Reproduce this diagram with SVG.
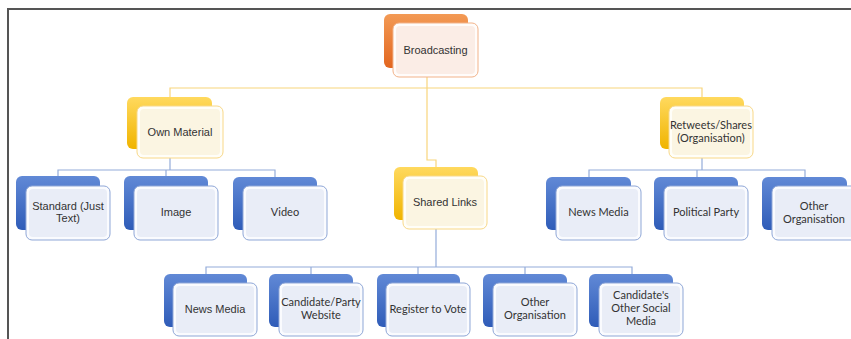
<svg xmlns="http://www.w3.org/2000/svg" width="851" height="339" viewBox="0 0 851 339">
<defs>
<linearGradient id="gO" x1="0" y1="0" x2="0" y2="1"><stop offset="0" stop-color="#F39A55"/><stop offset="1" stop-color="#E2661F"/></linearGradient>
<linearGradient id="gY" x1="0" y1="0" x2="0" y2="1"><stop offset="0" stop-color="#FFD95E"/><stop offset="1" stop-color="#F0B400"/></linearGradient>
<linearGradient id="gB" x1="0" y1="0" x2="0" y2="1"><stop offset="0" stop-color="#6189D6"/><stop offset="1" stop-color="#2F5CB8"/></linearGradient>
<style>
.bo{fill:url(#gO)}
.by{fill:url(#gY)}
.bb{fill:url(#gB)}
.fo{fill:#FFFCFA;stroke:#F2B38A;stroke-width:1}
.fy{fill:#FFFEF8;stroke:#F8D888;stroke-width:1}
.fb{fill:#FAFBFE;stroke:#8FA7D7;stroke-width:1}
.io{fill:#FBEDE6}
.iy{fill:#FBF5E2}
.ib{fill:#E9EDF7}
.ca{font-family:"Liberation Sans",Arial,sans-serif;font-size:11px;fill:#333;text-anchor:middle}
.cl{font-family:Lato,"Liberation Sans",sans-serif;font-size:11px;fill:#333;text-anchor:middle}
.ly{fill:none;stroke:#F8D57C;stroke-width:1.2}
.lb{fill:none;stroke:#94ACDA;stroke-width:1.2}
</style>
</defs>
<rect width="851" height="339" fill="#fff"/>
<path d="M8 339 V9 H851" fill="none" stroke="#555" stroke-width="2"/>
<g id="connectors">
<path class="ly" d="M427 77 V160 H436 V167"/>
<path class="ly" d="M170 97 V88 H702 V97"/>
<path class="lb" d="M170 158 V170 M58 176 V170 H275 V177 M166 170 V176"/>
<path class="lb" d="M702 158 V170 M589 177 V170 H805 V177 M697 170 V177"/>
<path class="lb" d="M436 229 V267 M206 274 V267 H632 V274 M311 267 V274 M418 267 V274 M525 267 V274"/>
</g>
<g id="broadcasting">
<rect class="bo" x="384" y="14" width="84" height="54" rx="6"/>
<rect class="fo" x="393" y="23" width="85" height="54" rx="6"/>
<rect class="io" x="396" y="26" width="79" height="48" rx="4"/>
<text class="ca" x="435.5" y="54">Broadcasting</text>
</g>
<g id="own-material">
<rect class="by" x="127" y="97" width="85" height="52" rx="6"/>
<rect class="fy" x="137" y="106" width="86" height="52" rx="6"/>
<rect class="iy" x="140" y="109" width="80" height="46" rx="4"/>
<text class="ca" x="180" y="136">Own Material</text>
</g>
<g id="retweets">
<rect class="by" x="660" y="97" width="84" height="52" rx="6"/>
<rect class="fy" x="669" y="106" width="84" height="52" rx="6"/>
<rect class="iy" x="672" y="109" width="78" height="46" rx="4"/>
<text class="cl" x="711" y="129">Retweets/Shares</text>
<text class="cl" x="711" y="142">(Organisation)</text>
</g>
<g id="shared-links">
<rect class="by" x="394" y="167" width="84" height="53" rx="6"/>
<rect class="fy" x="403" y="176" width="84" height="53" rx="6"/>
<rect class="iy" x="406" y="179" width="78" height="47" rx="4"/>
<text class="ca" x="445" y="206">Shared Links</text>
</g>
<g id="standard">
<rect class="bb" x="16" y="176" width="84" height="54" rx="6"/>
<rect class="fb" x="26" y="186" width="84" height="54" rx="6"/>
<rect class="ib" x="29" y="189" width="78" height="48" rx="4"/>
<text class="ca" x="68" y="210">Standard (Just</text>
<text class="ca" x="68" y="222">Text)</text>
</g>
<g id="image">
<rect class="bb" x="124" y="176" width="84" height="54" rx="6"/>
<rect class="fb" x="134" y="186" width="84" height="54" rx="6"/>
<rect class="ib" x="137" y="189" width="78" height="48" rx="4"/>
<text class="ca" x="176" y="216">Image</text>
</g>
<g id="video">
<rect class="bb" x="233" y="177" width="84" height="53" rx="6"/>
<rect class="fb" x="243" y="186" width="84" height="54" rx="6"/>
<rect class="ib" x="246" y="189" width="78" height="48" rx="4"/>
<text class="cl" x="285" y="216">Video</text>
</g>
<g id="rt-news-media">
<rect class="bb" x="546" y="177" width="85" height="53" rx="6"/>
<rect class="fb" x="556" y="186" width="85" height="54" rx="6"/>
<rect class="ib" x="559" y="189" width="79" height="48" rx="4"/>
<text class="cl" x="598.5" y="216">News Media</text>
</g>
<g id="political-party">
<rect class="bb" x="654" y="177" width="84" height="53" rx="6"/>
<rect class="fb" x="664" y="186" width="84" height="54" rx="6"/>
<rect class="ib" x="667" y="189" width="78" height="48" rx="4"/>
<text class="cl" x="706" y="216">Political Party</text>
</g>
<g id="rt-other-org">
<rect class="bb" x="762" y="177" width="85" height="53" rx="6"/>
<rect class="fb" x="772" y="186" width="85" height="54" rx="6"/>
<rect class="ib" x="775" y="189" width="79" height="48" rx="4"/>
<text class="cl" x="814" y="210">Other</text>
<text class="cl" x="814" y="223">Organisation</text>
</g>
<g id="sl-news-media">
<rect class="bb" x="164" y="274" width="83" height="53" rx="6"/>
<rect class="fb" x="173" y="283" width="84" height="53" rx="6"/>
<rect class="ib" x="176" y="286" width="78" height="47" rx="4"/>
<text class="ca" x="215" y="313">News Media</text>
</g>
<g id="candidate-website">
<rect class="bb" x="269" y="274" width="84" height="53" rx="6"/>
<rect class="fb" x="279" y="283" width="84" height="53" rx="6"/>
<rect class="ib" x="282" y="286" width="78" height="47" rx="4"/>
<text class="cl" x="321" y="306">Candidate/Party</text>
<text class="cl" x="321" y="319">Website</text>
</g>
<g id="register">
<rect class="bb" x="377" y="274" width="83" height="53" rx="6"/>
<rect class="fb" x="386" y="283" width="84" height="53" rx="6"/>
<rect class="ib" x="389" y="286" width="78" height="47" rx="4"/>
<text class="cl" x="428" y="313">Register to Vote</text>
</g>
<g id="sl-other-org">
<rect class="bb" x="483" y="274" width="84" height="53" rx="6"/>
<rect class="fb" x="493" y="283" width="84" height="53" rx="6"/>
<rect class="ib" x="496" y="286" width="78" height="47" rx="4"/>
<text class="cl" x="535" y="306">Other</text>
<text class="cl" x="535" y="319">Organisation</text>
</g>
<g id="candidate-social">
<rect class="bb" x="589" y="274" width="84" height="53" rx="6"/>
<rect class="fb" x="599" y="283" width="84" height="53" rx="6"/>
<rect class="ib" x="602" y="286" width="78" height="47" rx="4"/>
<text class="cl" x="641" y="299">Candidate's</text>
<text class="cl" x="641" y="312">Other Social</text>
<text class="cl" x="641" y="325">Media</text>
</g>
</svg>
